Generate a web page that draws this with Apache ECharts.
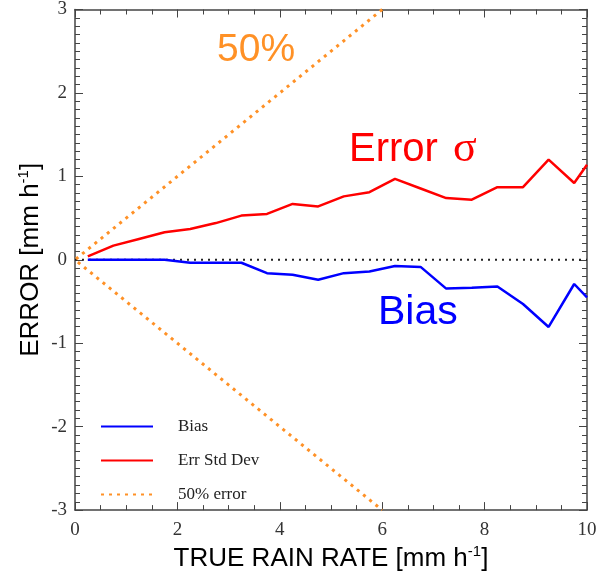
<!DOCTYPE html>
<html>
<head>
<meta charset="utf-8">
<script src="https://cdn.jsdelivr.net/npm/echarts@6/dist/echarts.min.js"></script>
<style>
html,body{margin:0;padding:0;background:#fff;}
#c{width:600px;height:577px;}
</style>
</head>
<body>
<div id="c"></div>
<script>
// True rain rate (mm/h) at which statistics are given
const rainRate = [0.25,0.75,1.25,1.75,2.25,2.75,3.25,3.75,4.25,4.75,5.25,5.75,6.25,6.75,7.25,7.75,8.25,8.75,9.25,9.75,10];
// Bias (mm/h)
const bias = [0,0,0,0,-0.035,-0.035,-0.035,-0.16,-0.18,-0.24,-0.16,-0.14,-0.075,-0.085,-0.345,-0.335,-0.32,-0.53,-0.805,-0.29,-0.45];
// Error standard deviation (mm/h)
const errStd = [0.04,0.17,0.25,0.33,0.37,0.44,0.53,0.55,0.67,0.64,0.76,0.81,0.97,0.855,0.74,0.72,0.87,0.87,1.20,0.92,1.14];
// 50% error envelope: x and y pairs
const envX = [6,0,6];
const envY = [3,0,-3];
// zero reference line
const zeroX = [0,10];
const zeroY = [0,0];
const xTicks = [0,2,4,6,8,10];
const yTicks = [-3,-2,-1,0,1,2,3];

const zip = (a,b)=>a.map((v,i)=>[v,b[i]]);
const ORANGE = '#FF9126';
const AX = '#444';

const chart = echarts.init(document.getElementById('c'), null, {renderer:'canvas'});
const baseAxis = {
  type:'value',
  axisLine:{show:true,onZero:false,lineStyle:{color:AX,width:1.5}},
  axisTick:{show:true,inside:true,length:8,lineStyle:{color:AX,width:1}},
  minorTick:{show:true,length:5,lineStyle:{color:AX,width:1}},
  splitLine:{show:false},
  minorSplitLine:{show:false}
};
const labelStyle = {fontFamily:'Liberation Serif',fontSize:19,color:'#333'};
const richTitle = {
  a:{fontFamily:'Liberation Sans',fontSize:26,color:'#000',lineHeight:30},
  s:{fontFamily:'Liberation Sans',fontSize:15,color:'#000',lineHeight:15,verticalAlign:'top'}
};

chart.setOption({
  animation:false,
  backgroundColor:'#fff',
  grid:{left:75,top:7,right:13,bottom:57,containLabel:false},
  xAxis:[
    Object.assign({}, baseAxis, {
      min:xTicks[0],max:xTicks[xTicks.length-1],interval:2,
      minorTick:Object.assign({},baseAxis.minorTick,{splitNumber:4}),
      axisLabel:Object.assign({margin:10},labelStyle),
      name:'{a|TRUE RAIN RATE [mm h}{s|-1}{a|]}',
      nameLocation:'middle',nameGap:31,
      nameTextStyle:{rich:richTitle}
    }),
    Object.assign({}, baseAxis, {
      position:'top',min:0,max:10,interval:2,
      minorTick:Object.assign({},baseAxis.minorTick,{splitNumber:4}),
      axisLabel:{show:false}
    })
  ],
  yAxis:[
    Object.assign({}, baseAxis, {
      min:yTicks[0],max:yTicks[yTicks.length-1],interval:1,
      minorTick:Object.assign({},baseAxis.minorTick,{splitNumber:10}),
      axisLabel:Object.assign({margin:8},labelStyle),
      name:'{a|ERROR [mm h}{s|-1}{a|]}',
      nameLocation:'middle',nameGap:29,nameRotate:90,nameMoveOverlap:false,
      nameTextStyle:{rich:richTitle}
    }),
    Object.assign({}, baseAxis, {
      position:'right',min:-3,max:3,interval:1,
      minorTick:Object.assign({},baseAxis.minorTick,{splitNumber:10}),
      axisLabel:{show:false}
    })
  ],
  legend:{
    data:['Bias','Err Std Dev','50% error'],
    orient:'vertical',left:100,top:418,padding:0,
    itemWidth:52,itemHeight:14,itemGap:17,
    itemStyle:{opacity:0},
    textStyle:{fontFamily:'Liberation Serif',fontSize:17,color:'#222',padding:[0,0,0,20]}
  },
  series:[
    {name:'zero',type:'line',data:zip(zeroX,zeroY),symbol:'none',silent:true,
     lineStyle:{color:'#222',width:2,type:[2,5]}},
    {name:'50% error',type:'line',data:zip(envX,envY),symbol:'none',
     lineStyle:{color:ORANGE,width:3,type:[3,5]},itemStyle:{color:ORANGE}},
    {name:'Err Std Dev',type:'line',data:zip(rainRate,errStd),symbol:'none',
     lineStyle:{color:'#FF0000',width:2.5},itemStyle:{color:'#FF0000'}},
    {name:'Bias',type:'line',data:zip(rainRate,bias),symbol:'none',
     lineStyle:{color:'#0000FF',width:2.5},itemStyle:{color:'#0000FF'}}
  ],
  graphic:[
    {type:'text',left:217,top:31,style:{text:'50%',font:'39px "Liberation Sans"',fill:ORANGE}},
    {type:'text',left:349,top:130,style:{text:'Error',font:'40px "Liberation Sans"',fill:'#FF0000'}},
    {type:'text',left:453,top:127,style:{text:'σ',font:'44px "Liberation Serif"',fill:'#FF0000'}},
    {type:'text',left:378,top:292,style:{text:'Bias',font:'41px "Liberation Sans"',fill:'#0000FF'}}
  ]
});
</script>
</body>
</html>
